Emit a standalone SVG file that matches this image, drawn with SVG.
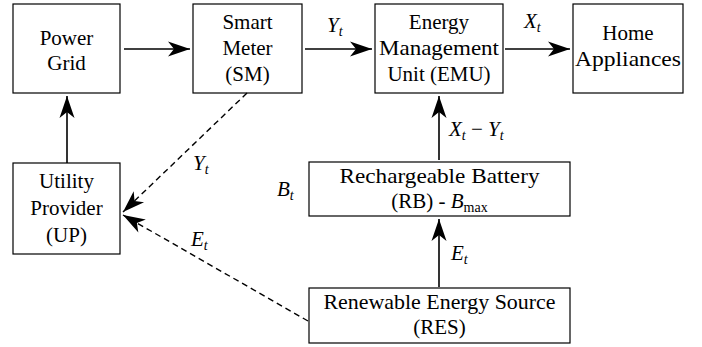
<svg xmlns="http://www.w3.org/2000/svg" width="702" height="347" viewBox="0 0 702 347">
<style>
text{font-family:'Liberation Serif','DejaVu Serif',serif}
.box{fill:#fff;stroke:#000;stroke-width:1.2}
.t{font-size:21px;fill:#000;text-anchor:middle}
.m{font-size:21px;font-style:italic;fill:#000}
.sub{font-size:14px}
.up{font-style:normal}
.c{fill:none;stroke:#000;stroke-width:1.6}
.d{fill:none;stroke:#000;stroke-width:1.4;stroke-dasharray:6 4}
</style>
<defs>
<marker id="ah" viewBox="0 0 24 16" markerWidth="24" markerHeight="16" refX="22" refY="8" orient="auto" markerUnits="userSpaceOnUse" overflow="visible">
<path d="M22,8 L0,0.5 L6,8 L0,15.5 Z" fill="#000"/>
</marker>
</defs>
<g id="power-grid"><rect class="box" x="13" y="4" width="107" height="89"/><text class="t" x="66.5" y="45">Power</text><text class="t" x="66.5" y="70">Grid</text></g>
<g id="smart-meter"><rect class="box" x="193" y="4" width="109" height="89"/><text class="t" x="247.5" y="29">Smart</text><text class="t" x="247.5" y="55">Meter</text><text class="t" x="247.5" y="81">(SM)</text></g>
<g id="emu"><rect class="box" x="375" y="4" width="128" height="89"/><text class="t" x="439" y="29">Energy</text><text class="t" x="439" y="55" textLength="120" lengthAdjust="spacingAndGlyphs">Management</text><text class="t" x="439" y="81">Unit (EMU)</text></g>
<g id="home-appliances"><rect class="box" x="573" y="4" width="110" height="89"/><text class="t" x="628" y="40">Home</text><text class="t" x="628" y="66" textLength="106" lengthAdjust="spacingAndGlyphs">Appliances</text></g>
<g id="utility-provider"><rect class="box" x="13" y="163" width="107" height="91"/><text class="t" x="66.5" y="188">Utility</text><text class="t" x="66.5" y="215">Provider</text><text class="t" x="66.5" y="242">(UP)</text></g>
<g id="battery"><rect class="box" x="309" y="162" width="261" height="54"/><text class="t" x="439.5" y="183" textLength="200" lengthAdjust="spacingAndGlyphs">Rechargeable Battery</text><text class="t" x="439.5" y="208">(RB) - <tspan font-style="italic">B</tspan><tspan class="sub" dy="4">max</tspan></text></g>
<g id="res"><rect class="box" x="309" y="288" width="261" height="55"/><text class="t" x="439.5" y="309" textLength="232" lengthAdjust="spacingAndGlyphs">Renewable Energy Source</text><text class="t" x="439.5" y="334">(RES)</text></g>
<g id="connectors">
<line class="c" x1="124" y1="49" x2="190" y2="49" marker-end="url(#ah)"/>
<line class="c" x1="305" y1="49" x2="372" y2="49" marker-end="url(#ah)"/>
<line class="c" x1="505" y1="49" x2="570" y2="49" marker-end="url(#ah)"/>
<line class="c" x1="67" y1="163" x2="67" y2="96" marker-end="url(#ah)"/>
<line class="c" x1="439" y1="160" x2="439" y2="96" marker-end="url(#ah)"/>
<line class="c" x1="439" y1="287" x2="439" y2="219" marker-end="url(#ah)"/>
<line class="d" x1="247" y1="93" x2="123" y2="212" marker-end="url(#ah)"/>
<line class="d" x1="308" y1="321" x2="123" y2="215" marker-end="url(#ah)"/>
<text class="m" x="327" y="32">Y<tspan class="sub" dy="4">t</tspan></text>
<text class="m" x="524" y="28">X<tspan class="sub" dy="4">t</tspan></text>
<text class="m" x="449" y="136">X<tspan class="sub" dy="4">t</tspan><tspan class="up" dy="-4"> − </tspan>Y<tspan class="sub" dy="4">t</tspan></text>
<text class="m" x="451" y="260">E<tspan class="sub" dy="4">t</tspan></text>
<text class="m" x="277" y="196">B<tspan class="sub" dy="4">t</tspan></text>
<text class="m" x="193" y="170">Y<tspan class="sub" dy="4">t</tspan></text>
<text class="m" x="191" y="246">E<tspan class="sub" dy="4">t</tspan></text>
</g>
</svg>
